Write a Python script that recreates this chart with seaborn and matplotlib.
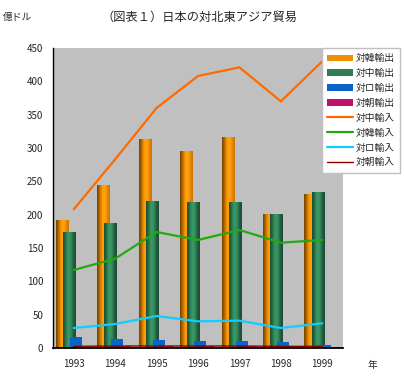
import numpy as np
import pandas as pd
import matplotlib
matplotlib.use("Agg")
import matplotlib.pyplot as plt
from matplotlib.colors import LinearSegmentedColormap
from matplotlib.patches import Patch
from matplotlib.lines import Line2D
from matplotlib.ticker import FixedLocator
import seaborn as sns

# =====================
# data (億ドル)
# =====================
years = ["1993", "1994", "1995", "1996", "1997", "1998", "1999"]

kan_exp = [192, 244, 313, 295, 316, 201, 231]   # 対韓輸出
chu_exp = [174, 187, 220, 219, 219, 201, 234]   # 対中輸出
ro_exp  = [16, 13, 12, 10, 10, 9, 4]            # 対ロ輸出
cho_exp = [2.2, 2.5, 2.5, 2.3, 2.3, 2.0, 1.5]   # 対朝輸出

chu_imp = [208, 283, 360, 408, 421, 370, 430]   # 対中輸入
kan_imp = [117, 134, 174, 162, 177, 158, 162]   # 対韓輸入
ro_imp  = [30, 36, 48, 40, 41, 30, 37]          # 対ロ輸入
cho_imp = [2.5, 3, 3, 3, 3, 2.5, 2.5]           # 対朝輸入

exp_labels = ["対韓輸出", "対中輸出", "対ロ輸出", "対朝輸出"]
imp_labels = ["対中輸入", "対韓輸入", "対ロ輸入", "対朝輸入"]

exp_df = pd.DataFrame({
    "year": years * 4,
    "series": np.repeat(exp_labels, len(years)),
    "value": kan_exp + chu_exp + ro_exp + cho_exp,
})
imp_df = pd.DataFrame({
    "year": years * 4,
    "series": np.repeat(imp_labels, len(years)),
    "value": chu_imp + kan_imp + ro_imp + cho_imp,
})

# =====================
# style
# =====================
bar_colors = ["#F09000", "#2E7D50", "#0A64C8", "#C0106A"]
line_colors = ["#FF6A00", "#22AA11", "#11CCFF", "#8B0000"]
line_widths = [1.6, 1.6, 1.6, 1.0]

cmaps = [
    LinearSegmentedColormap.from_list("o", ["#6E4200", "#B86A00", "#FF9A00", "#FFA214", "#E88A00", "#C87400"]),
    LinearSegmentedColormap.from_list("g", ["#1C4A32", "#2A7048", "#3A9A68", "#34905F", "#24603F", "#1C4A32"]),
    None,
    LinearSegmentedColormap.from_list("m", ["#700038", "#E0107E", "#E0107E", "#800040"]),
]

sns.set_style("white")
plt.rcParams["font.family"] = ["Noto Sans CJK JP", "DejaVu Sans"]

fig = plt.figure(figsize=(4.04, 3.76), dpi=100)
ax = fig.add_axes([53 / 404, 28 / 376, 290 / 404, 300 / 376])
ax.set_facecolor("#C0C0C0")

sns.barplot(data=exp_df, x="year", y="value", hue="series", hue_order=exp_labels,
            palette=bar_colors, width=0.68, saturation=1, errorbar=None,
            legend=False, linewidth=0, edgecolor="none", ax=ax)

# widen bars so they overlap like the original
grad = np.linspace(0, 1, 64).reshape(1, -1)
for i, cont in enumerate(ax.containers):
    for rect in cont:
        cx = rect.get_x() + rect.get_width() / 2
        w = 0.29
        rect.set_x(cx - w / 2 - 0.03)
        rect.set_width(w)
        rect.set_zorder(2 + i * 0.1)
for i, cont in enumerate(ax.containers):
    if cmaps[i] is None:
        continue
    for rect in cont:
        x0, w, h = rect.get_x(), rect.get_width(), rect.get_height()
        im = ax.imshow(grad, extent=[x0, x0 + w, 0, h], cmap=cmaps[i], aspect="auto",
                       interpolation="bilinear", zorder=rect.get_zorder())
        im.set_clip_path(rect)

for lab, col, lw in zip(imp_labels, line_colors, line_widths):
    sns.lineplot(data=imp_df[imp_df["series"] == lab], x="year", y="value",
                 color=col, linewidth=lw, ax=ax, zorder=5, legend=False)

ax.set_xlim(-0.5, 6.5)
ax.set_ylim(0, 450)
ax.set_yticks(range(0, 451, 50))
ax.set_xlabel("")
ax.set_ylabel("")
ax.xaxis.set_minor_locator(FixedLocator(np.arange(-0.5, 7, 1)))
ax.tick_params(axis="x", which="major", length=0, pad=8, labelsize=7)
ax.tick_params(axis="x", which="minor", length=3, direction="in", color="black", width=0.8)
ax.tick_params(axis="y", length=2, direction="in", pad=7, labelsize=7)

for s in ["top", "right"]:
    ax.spines[s].set_visible(False)
ax.spines["left"].set_color("black")
ax.spines["left"].set_linewidth(1)
ax.spines["bottom"].set_color("black")
ax.spines["bottom"].set_linewidth(1.3)

fig.text(3 / 404, 1 - 17 / 376, "億ドル", fontsize=7, va="center", ha="left")
fig.text(200 / 404, 1 - 17 / 376, "（図表１）日本の対北東アジア貿易", fontsize=8.8, va="center", ha="center")
fig.text(368 / 404, 1 - 365 / 376, "年", fontsize=7, va="center", ha="left")

handles = [Patch(facecolor=c, edgecolor="none") for c in bar_colors]
handles += [Line2D([0], [0], color=c, lw=lw) for c, lw in zip(line_colors, line_widths)]
fig.legend(handles, exp_labels + imp_labels, loc="upper left",
           bbox_to_anchor=(322 / 404, 1 - 48 / 376), frameon=True, fancybox=False,
           edgecolor="#C0C0C0", framealpha=1, fontsize=7, handlelength=2.6,
           handleheight=0.7, handletextpad=0.35, labelspacing=0.5, borderpad=0.55,
           borderaxespad=0)

fig.savefig("out.png", dpi=100)
